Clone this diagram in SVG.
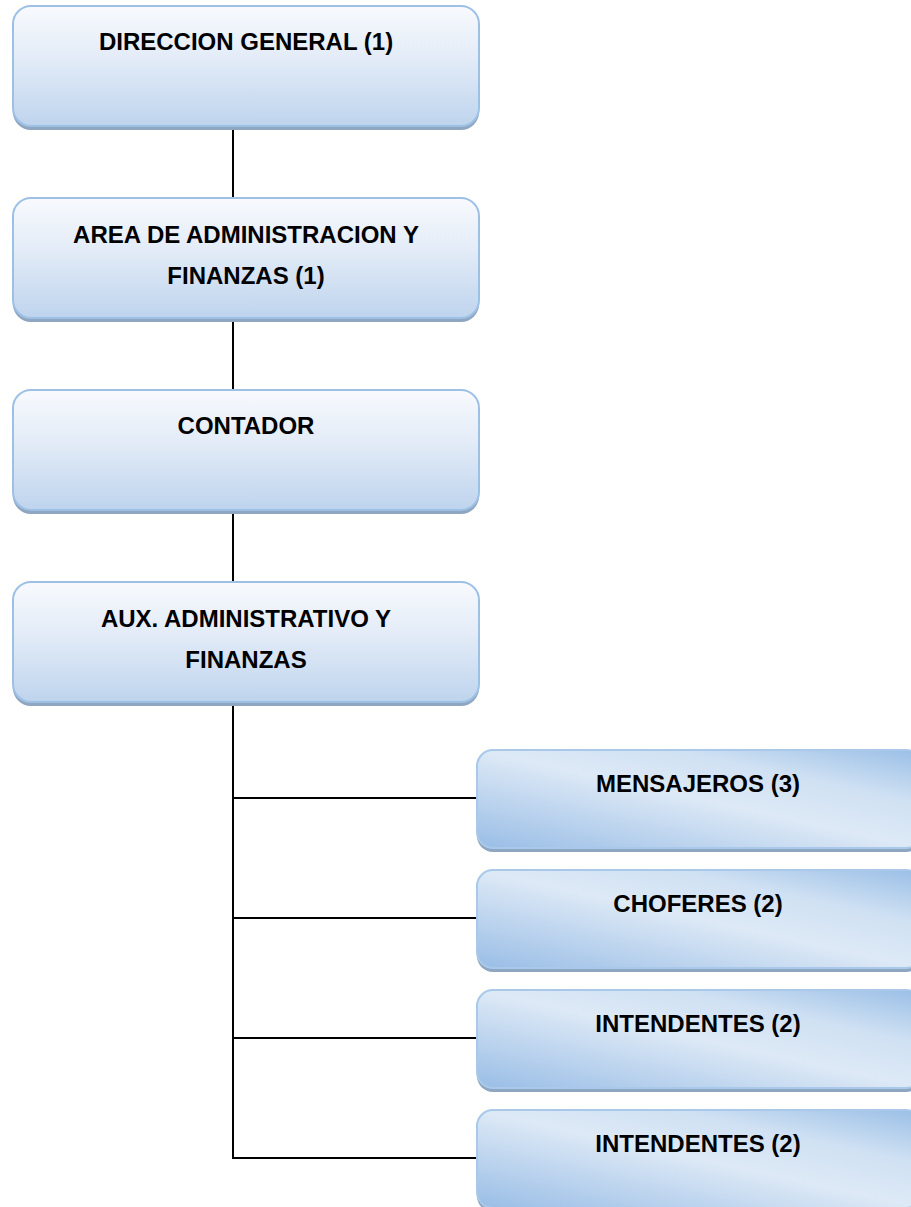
<svg xmlns="http://www.w3.org/2000/svg" width="911" height="1207" viewBox="0 0 911 1207">
  <defs>
    <linearGradient id="gradMain" x1="0" y1="0" x2="0" y2="1">
      <stop offset="0" stop-color="#f8fafd"/>
      <stop offset="0.45" stop-color="#e2ebf7"/>
      <stop offset="1" stop-color="#bed4ed"/>
    </linearGradient>
    <linearGradient id="gradSide" x1="0" y1="1" x2="1" y2="0">
      <stop offset="0" stop-color="#99bde6"/>
      <stop offset="0.5" stop-color="#dde9f6"/>
      <stop offset="0.72" stop-color="#d0e1f3"/>
      <stop offset="1" stop-color="#99bee6"/>
    </linearGradient>
    <style>
      .shadow { fill: #8fa6c1; }
      .box-main { fill: url(#gradMain); stroke: #9dc0e5; stroke-width: 2; }
      .box-side { fill: url(#gradSide); stroke: #a9c8ea; stroke-width: 2; }
      .label { font-family: "Liberation Sans", Arial, sans-serif; font-weight: bold; font-size: 24px; fill: #000; text-anchor: middle; }
      .link { stroke: #000; stroke-width: 2; fill: none; }
    </style>
  </defs>

  <!-- connectors -->
  <g id="connectors">
    <line class="link" x1="233" y1="126" x2="233" y2="198"/>
    <line class="link" x1="233" y1="318" x2="233" y2="390"/>
    <line class="link" x1="233" y1="510" x2="233" y2="582"/>
    <polyline class="link" points="233,702 233,1158 477,1158"/>
    <line class="link" x1="233" y1="798" x2="477" y2="798"/>
    <line class="link" x1="233" y1="918" x2="477" y2="918"/>
    <line class="link" x1="233" y1="1038" x2="477" y2="1038"/>
  </g>

  <g id="direccion-general">
    <rect class="shadow" x="13" y="10" width="466" height="120" rx="18"/>
    <rect class="box-main" x="13" y="6" width="466" height="120" rx="18"/>
    <text class="label" x="246" y="50">DIRECCION GENERAL (1)</text>
  </g>

  <g id="area-administracion">
    <rect class="shadow" x="13" y="202" width="466" height="120" rx="18"/>
    <rect class="box-main" x="13" y="198" width="466" height="120" rx="18"/>
    <text class="label" x="246" y="243">AREA DE ADMINISTRACION Y</text>
    <text class="label" x="246" y="284">FINANZAS (1)</text>
  </g>

  <g id="contador">
    <rect class="shadow" x="13" y="394" width="466" height="120" rx="18"/>
    <rect class="box-main" x="13" y="390" width="466" height="120" rx="18"/>
    <text class="label" x="246" y="434">CONTADOR</text>
  </g>

  <g id="aux-administrativo">
    <rect class="shadow" x="13" y="586" width="466" height="120" rx="18"/>
    <rect class="box-main" x="13" y="582" width="466" height="120" rx="18"/>
    <text class="label" x="246" y="627">AUX. ADMINISTRATIVO Y</text>
    <text class="label" x="246" y="668">FINANZAS</text>
  </g>

  <g id="mensajeros">
    <rect class="shadow" x="477" y="754" width="445" height="98" rx="16"/>
    <rect class="box-side" x="477" y="750" width="445" height="98" rx="16"/>
    <text class="label" x="698" y="792">MENSAJEROS (3)</text>
  </g>

  <g id="choferes">
    <rect class="shadow" x="477" y="874" width="445" height="98" rx="16"/>
    <rect class="box-side" x="477" y="870" width="445" height="98" rx="16"/>
    <text class="label" x="698" y="912">CHOFERES (2)</text>
  </g>

  <g id="intendentes-1">
    <rect class="shadow" x="477" y="994" width="445" height="98" rx="16"/>
    <rect class="box-side" x="477" y="990" width="445" height="98" rx="16"/>
    <text class="label" x="698" y="1032">INTENDENTES (2)</text>
  </g>

  <g id="intendentes-2">
    <rect class="shadow" x="477" y="1114" width="445" height="98" rx="16"/>
    <rect class="box-side" x="477" y="1110" width="445" height="98" rx="16"/>
    <text class="label" x="698" y="1152">INTENDENTES (2)</text>
  </g>
</svg>
